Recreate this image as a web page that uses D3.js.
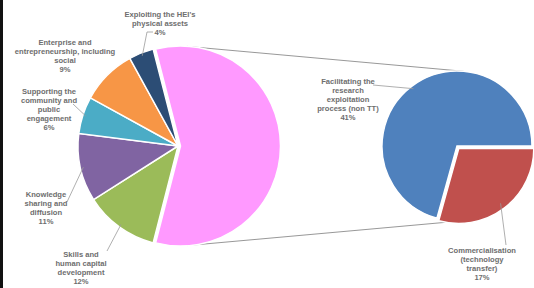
<!DOCTYPE html>
<html>
<head>
<meta charset="utf-8">
<script src="https://cdn.jsdelivr.net/npm/d3@7"></script>
<style>
  html, body { margin: 0; padding: 0; background: #fff; }
  svg { display: block; }
  text { font-family: "Liberation Sans", Arial, sans-serif; font-weight: bold; font-size: 7.6px; fill: #6e6e6e; }
</style>
</head>
<body>
<div id="chart"></div>
<script>
var width = 534, height = 288;

// main pie (clockwise from the split slice)
var mainNames = ["Other", "Skills and human capital development", "Knowledge sharing and diffusion",
  "Supporting the community and public engagement", "Enterprise and entrepreneurship, including social",
  "Exploiting the HEI's physical assets"];
var mainValues = [null, 12, 11, 6, 9, 4];
var mainColors = ["#ff99ff", "#9bbb59", "#8064a2", "#4bacc6", "#f79646", "#2c4d75"];

// secondary pie
var subNames = ["Commercialisation (technology transfer)", "Facilitating the research exploitation process (non TT)"];
var subValues = [17, 41];
var subColors = ["#c0504d", "#4f81bd"];

// label text lines
var mainLabelLines = [
  null,
  ["Skills and", "human capital", "development", "12%"],
  ["Knowledge", "sharing and", "diffusion", "11%"],
  ["Supporting the", "community and", "public", "engagement", "6%"],
  ["Enterprise and", "entrepreneurship, including", "social", "9%"],
  ["Exploiting the HEI's", "physical assets", "4%"]
];
var subLabelLines = [
  ["Commercialisation", "(technology", "transfer)", "17%"],
  ["Facilitating the", "research", "exploitation", "process (non TT)", "41%"]
];

mainValues[0] = d3.sum(subValues);

var svg = d3.select("#chart").append("svg")
  .attr("width", width).attr("height", height);

svg.append("rect").attr("x", 0).attr("y", 0).attr("width", 3).attr("height", height).attr("fill", "#111");

var c1 = {x: 178, y: 146, r: 100};
var c2 = {x: 457, y: 146, r: 75};
var lineH = 9;

// label layout (text block centre x, first line y) and leader endpoints
var mainLabelPos = [null, {x: 81, y: 254}, {x: 46, y: 194}, {x: 49, y: 91}, {x: 65, y: 42}, {x: 160, y: 14}];
var mainLeader = [null, [[107, 251]], [[67, 202]], [[73, 104]], null, [[147, 32], [153, 32]]];
var subLabelPos = [{x: 482, y: 250}, {x: 348, y: 81}];
var subLeader = [[[506, 245]], [[373, 85]]];

// connector lines: outer tangents of the two circles
var s = (c1.r - c2.r) / (c2.x - c1.x), cc = Math.sqrt(1 - s * s);
[-1, 1].forEach(function(sg) {
  var nx = s, ny = sg * cc;
  svg.append("line")
    .attr("x1", c1.x + c1.r * nx).attr("y1", c1.y + c1.r * ny)
    .attr("x2", c2.x + c2.r * nx).attr("y2", c2.y + c2.r * ny)
    .attr("stroke", "#8c8c8c").attr("stroke-width", 0.9);
});

var mainPct = d3.sum(mainValues);
var pinkAngle = mainValues[0] / mainPct * 2 * Math.PI;
var mainPie = d3.pie().sort(null).value(function(d) { return d; })
  .startAngle(Math.PI / 2 - pinkAngle / 2).endAngle(Math.PI / 2 - pinkAngle / 2 + 2 * Math.PI);
var mainArcs = mainPie(mainValues);
var arc1 = d3.arc().innerRadius(0).outerRadius(c1.r);

function polar(c, r, a) { return [c.x + r * Math.sin(a), c.y - r * Math.cos(a)]; }

var g1 = svg.append("g").attr("transform", "translate(" + c1.x + "," + c1.y + ")");
g1.selectAll("path").data(mainArcs).enter().append("path")
  .attr("d", arc1)
  .attr("fill", function(d, i) { return mainColors[i]; })
  .attr("stroke", "#fff").attr("stroke-width", 1.5)
  .attr("transform", function(d, i) {
    if (i !== 0) return null;
    var m = (d.startAngle + d.endAngle) / 2;
    return "translate(" + 2.5 * Math.sin(m) + "," + (-2.5 * Math.cos(m)) + ")";
  });

var subPie = d3.pie().sort(null).value(function(d) { return d; })
  .startAngle(Math.PI / 2).endAngle(Math.PI / 2 + 2 * Math.PI);
var subArcs = subPie(subValues);
var arc2 = d3.arc().innerRadius(0).outerRadius(c2.r);
var g2 = svg.append("g").attr("transform", "translate(" + c2.x + "," + c2.y + ")");
g2.selectAll("path").data(subArcs).enter().append("path")
  .attr("d", arc2)
  .attr("fill", function(d, i) { return subColors[i]; })
  .attr("stroke", "#fff").attr("stroke-width", 1.5)
  .attr("transform", function(d, i) {
    if (i !== 0) return null;
    var m = (d.startAngle + d.endAngle) / 2;
    return "translate(" + 3 * Math.sin(m) + "," + (-3 * Math.cos(m)) + ")";
  });

function leader(c, a, pts) {
  var p = [polar(c, c.r - 3, a)].concat(pts);
  svg.append("path").attr("d", d3.line()(p))
    .attr("fill", "none").attr("stroke", "#9a9a9a").attr("stroke-width", 0.8);
}

function label(pos, lines) {
  var t = svg.append("text").attr("text-anchor", "middle");
  lines.forEach(function(l, k) {
    t.append("tspan").attr("x", pos.x).attr("y", pos.y + k * lineH + 2.7).text(l);
  });
}

mainArcs.forEach(function(d, i) {
  if (i === 0) return;
  var m = (d.startAngle + d.endAngle) / 2;
  if (mainLeader[i]) leader(c1, m, mainLeader[i]);
  label(mainLabelPos[i], mainLabelLines[i]);
});
subArcs.forEach(function(d, i) {
  var m = (d.startAngle + d.endAngle) / 2;
  leader(c2, m, subLeader[i]);
  label(subLabelPos[i], subLabelLines[i]);
});
</script>
</body>
</html>
